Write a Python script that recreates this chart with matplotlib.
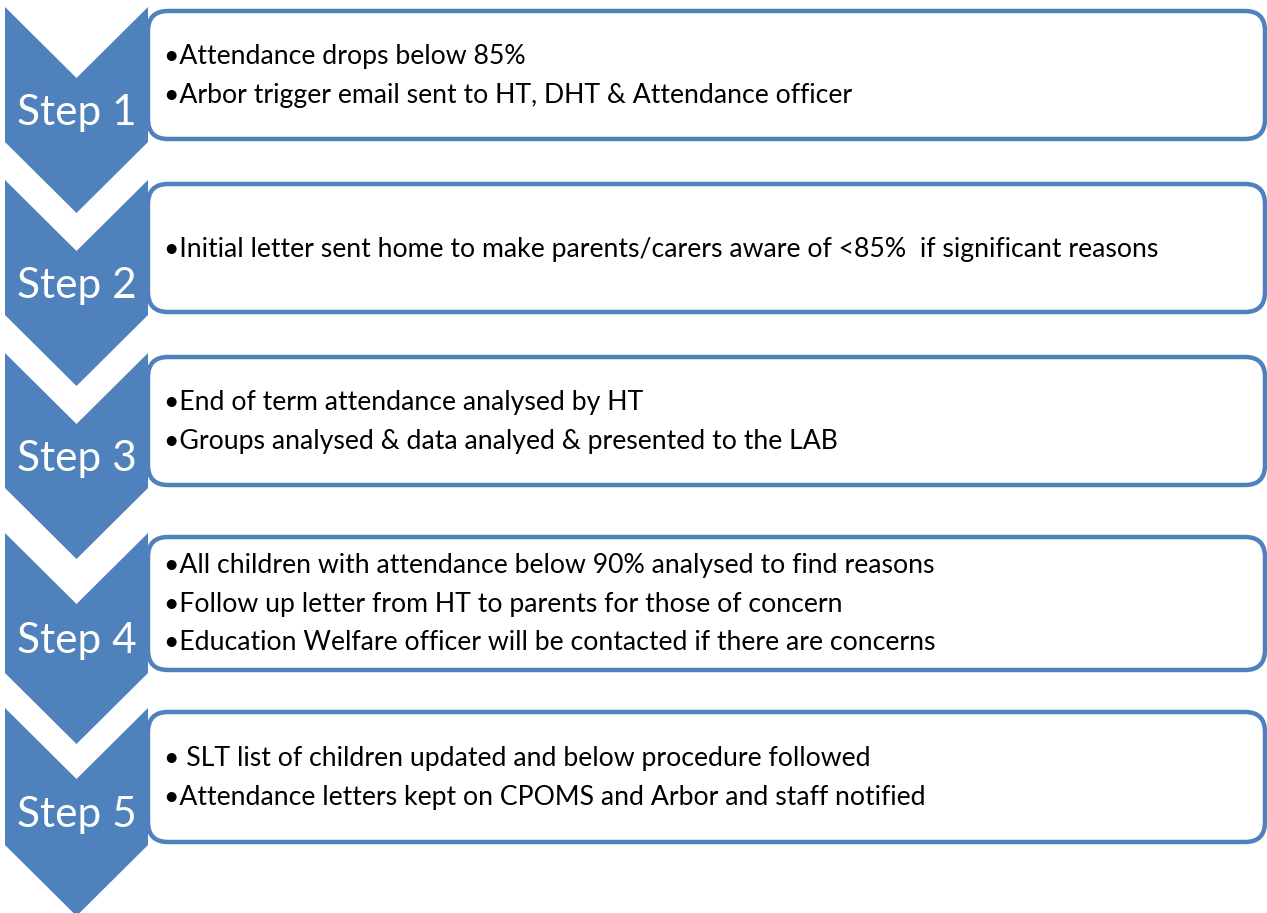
import matplotlib
matplotlib.use("Agg")
import matplotlib.pyplot as plt
from matplotlib.patches import Polygon, FancyBboxPatch

# data
steps = ["Step 1", "Step 2", "Step 3", "Step 4", "Step 5"]
bullets = [
    ["•Attendance drops below 85%",
     "•Arbor trigger email sent to HT, DHT & Attendance officer"],
    ["•Initial letter sent home to make parents/carers aware of <85%  if significant reasons"],
    ["•End of term attendance analysed by HT",
     "•Groups analysed & data analyed & presented to the LAB"],
    ["•All children with attendance below 90% analysed to find reasons",
     "•Follow up letter from HT to parents for those of concern",
     "•Education Welfare officer will be contacted if there are concerns"],
    ["• SLT list of children updated and below procedure followed",
     "•Attendance letters kept on CPOMS and Arbor and staff notified"],
]

# layout (pixels, y down)
tops = [7, 180, 353, 533, 708]
side_bottoms = [142, 315, 488, 673, 845]
chev_left, chev_right, tip = 5, 148, 71
box_right = 1265
blue = "#4F81BD"
font = "Lato"

W, H = 1267, 913
fig = plt.figure(figsize=(W / 100, H / 100), dpi=100)
ax = fig.add_axes([0, 0, 1, 1])
ax.set_xlim(0, W)
ax.set_ylim(H, 0)
ax.axis("off")

mid = (chev_left + chev_right) / 2
for i, label in enumerate(steps):
    t, b = tops[i], side_bottoms[i]
    pts = [(chev_left, t), (mid, t + tip), (chev_right, t), (chev_right, b),
           (mid, b + tip), (chev_left, b)]
    ax.add_patch(Polygon(pts, closed=True, fc=blue, ec="none", zorder=2))

    # rounded box to the right
    bt, bb = t + 4, b - 3
    ax.add_patch(FancyBboxPatch((chev_right, bt), box_right - chev_right, bb - bt,
                                boxstyle="round,pad=0,rounding_size=20",
                                fc="white", ec=blue, lw=3.2, zorder=1))

    ax.text(mid, (t + tip + b) / 2 + 3, label, color="white", fontsize=30.5,
            family=font, ha="center", va="center", zorder=3)

    lines = bullets[i]
    spacing = 38.5
    yc = (bt + bb) / 2 + 1
    y0 = yc - spacing * (len(lines) - 1) / 2
    for j, line in enumerate(lines):
        ax.text(164, y0 + j * spacing, line, fontsize=19.2, family=font,
                color="black", ha="left", va="center", zorder=3)

fig.savefig("out.png", dpi=100)
